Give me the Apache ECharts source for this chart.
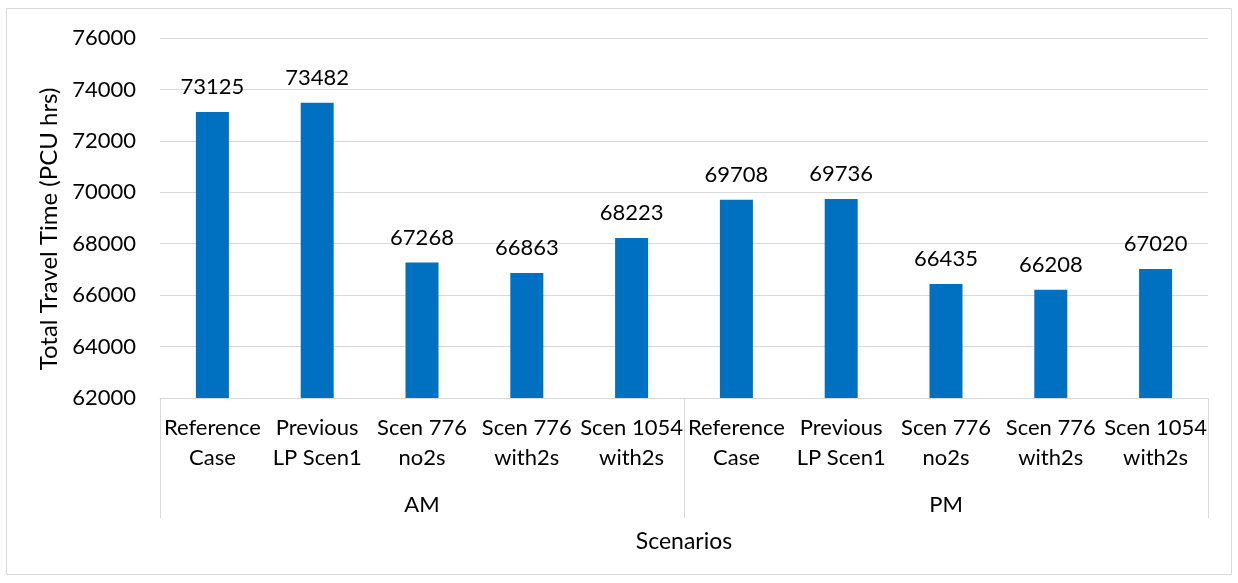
<!DOCTYPE html>
<html><head><meta charset="utf-8">
<script src="https://cdn.jsdelivr.net/npm/echarts@6/dist/echarts.min.js"></script>
<style>html,body{margin:0;padding:0;background:#fff}#c{width:1238px;height:583px}</style>
</head><body><div id="c"></div>
<script>
const categories = ["Reference\nCase","Previous\nLP Scen1","Scen 776\nno2s","Scen 776\nwith2s","Scen 1054\nwith2s",
                    "Reference\nCase","Previous\nLP Scen1","Scen 776\nno2s","Scen 776\nwith2s","Scen 1054\nwith2s"];
const groups = ["AM","PM"];
const travelTime = [73125,73482,67268,66863,68223,69708,69736,66435,66208,67020];
const yTicks = {min:62000,max:76000,interval:2000};

const FONT = 'Lato';
const chart = echarts.init(document.getElementById('c'), null, {renderer:'canvas'});
chart.setOption({
  animation:false,
  textStyle:{fontFamily:FONT,color:'#000'},
  graphic:[{type:'rect',shape:{x:6.5,y:8.5,width:1225,height:566},style:{fill:'none',stroke:'#d9d9d9',lineWidth:1},silent:true}],
  grid:{left:160,right:30,top:38,bottom:185,containLabel:false},
  xAxis:[{
    type:'category',data:categories,position:'bottom',
    axisLine:{show:true,lineStyle:{color:'#d9d9d9',width:1}},
    axisTick:{show:false},
    axisLabel:{interval:0,fontSize:22,lineHeight:30,margin:15,color:'#000',fontFamily:FONT}
  },{
    type:'category',data:groups,position:'bottom',
    axisLine:{show:false},
    axisTick:{show:true,length:120,lineStyle:{color:'#d9d9d9',width:1}},
    axisLabel:{fontSize:22,margin:96,color:'#000',fontFamily:FONT},
    name:'Scenarios',nameLocation:'middle',nameGap:132,
    nameTextStyle:{fontSize:23,color:'#000',fontFamily:FONT}
  }],
  yAxis:{
    type:'value',min:yTicks.min,max:yTicks.max,interval:yTicks.interval,
    axisLine:{show:false},axisTick:{show:false},
    splitLine:{lineStyle:{color:'#d9d9d9',width:1}},
    axisLabel:{fontSize:22,margin:24,color:'#000',fontFamily:FONT,formatter:function(v){return String(v);}},
    name:'Total Travel Time (PCU hrs)',nameLocation:'middle',nameGap:80,
    nameTextStyle:{fontSize:24,color:'#000',fontFamily:FONT,padding:[0,22,0,0]}
  },
  series:[{
    type:'bar',data:travelTime,xAxisIndex:0,barWidth:33,
    itemStyle:{color:'#0070C0'},
    label:{show:true,position:'top',distance:14,fontSize:22,color:'#000',fontFamily:FONT}
  }]
});
</script></body></html>
